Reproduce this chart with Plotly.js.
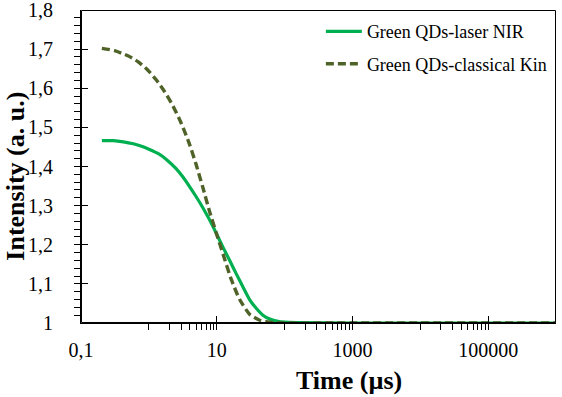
<!DOCTYPE html>
<html>
<head>
<meta charset="utf-8">
<script src="https://cdn.plot.ly/plotly-3.0.1.min.js"></script>
<style>html,body{margin:0;padding:0;background:#fff;}#chart{width:562px;height:397px;}</style>
</head>
<body>
<div id="chart"></div>
<script>
// Series: Green QDs-laser NIR (solid)
const timeNIR = [0.203, 0.30, 0.42, 0.59, 0.80, 1.0, 1.4, 1.81, 2.5, 3.18, 4.0, 5.01, 6.28, 7.88, 10.0, 12.5, 15.6, 19.5, 24.4, 30.5, 38.5, 48, 60.6, 80, 100, 150, 1000, 1000000];
const intensityNIR = [1.466, 1.466, 1.463, 1.458, 1.451, 1.444, 1.432, 1.418, 1.395, 1.373, 1.348, 1.322, 1.294, 1.263, 1.227, 1.192, 1.159, 1.125, 1.092, 1.060, 1.037, 1.020, 1.010, 1.004, 1.002, 1.001, 1.0, 1.0];
// Series: Green QDs-classical Kin (dashed)
const timeKin = [0.203, 0.312, 0.491, 0.689, 0.968, 1.29, 1.71, 2.26, 3.01, 3.99, 5.01, 6.28, 7.88, 9.90, 12.4, 16.5, 21.8, 30.7, 43.1, 60.6, 100, 1000, 1000000];
const intensityKin = [1.702, 1.696, 1.683, 1.668, 1.646, 1.621, 1.591, 1.555, 1.510, 1.456, 1.403, 1.345, 1.284, 1.229, 1.176, 1.110, 1.060, 1.022, 1.007, 1.002, 1.0, 1.0, 1.0];
const seriesNames = ["Green QDs-laser NIR", "Green QDs-classical Kin"];

// Axis ticks
const xTickVals = [0.1, 10, 1000, 100000];
const xTickText = ["0,1", "10", "1000", "100000"];
const xMinorVals = [0.1,1,2,3,4,5,6,7,8,9,10,100,200,300,400,500,600,700,800,900,1000,10000,20000,30000,40000,50000,60000,70000,80000,90000,100000,1000000];
const yTickVals = [1, 1.1, 1.2, 1.3, 1.4, 1.5, 1.6, 1.7, 1.8];
const yTickText = ["1", "1,1", "1,2", "1,3", "1,4", "1,5", "1,6", "1,7", "1,8"];

const serif = "Liberation Serif, Times New Roman, serif";

const traces = [
  {x: timeNIR, y: intensityNIR, name: seriesNames[0], type: "scatter", mode: "lines",
   line: {color: "#00B050", width: 3.2, shape: "spline", smoothing: 0.6}, legendgroup: "a"},
  {x: timeKin, y: intensityKin, name: seriesNames[1], type: "scatter", mode: "lines",
   line: {color: "#4F6228", width: 3.4, dash: "8px,4px", shape: "spline", smoothing: 0.6}, legendgroup: "b"}
];

const layout = {
  width: 562, height: 397,
  margin: {l: 81, r: 6, t: 10, b: 74},
  paper_bgcolor: "#fff", plot_bgcolor: "#fff",
  font: {family: serif, color: "#000"},
  showlegend: true,
  legend: {x: 0.505, xanchor: "left", y: 0.99, yanchor: "top", bgcolor: "rgba(0,0,0,0)",
           font: {family: serif, size: 18, color: "#000"}, tracegroupgap: 6, traceorder: "grouped", itemwidth: 36},
  xaxis: {type: "log", range: [-1, 6], showgrid: false, zeroline: false,
          showline: true, linecolor: "#000", linewidth: 1, mirror: false,
          tickmode: "array", tickvals: xTickVals, ticktext: xTickText,
          ticks: "inside", ticklen: 7, tickcolor: "#000", tickwidth: 1,
          tickfont: {family: serif, size: 20, color: "#000"}, ticklabelstandoff: 9, ticklabeloverflow: "allow",
          minor: {tickmode: "array", tickvals: xMinorVals, ticks: "outside", ticklen: 6, tickcolor: "#000", tickwidth: 1, showgrid: false}},
  yaxis: {range: [1, 1.8], showgrid: false, zeroline: false,
          showline: true, linecolor: "#000", linewidth: 1, mirror: false,
          tickmode: "array", tickvals: yTickVals, ticktext: yTickText,
          ticks: "inside", ticklen: 7, tickcolor: "#000", tickwidth: 1,
          tickfont: {family: serif, size: 20, color: "#000"}, ticklabelstandoff: 23, ticklabeloverflow: "allow",
          minor: {dtick: 0.02, tick0: 1, ticks: "outside", ticklen: 6, tickcolor: "#000", tickwidth: 1, showgrid: false}},
  shapes: [
    {type: "rect", xref: "paper", yref: "paper", x0: 0.00105, x1: 0.99895, y0: 0.0016, y1: 0.9984,
     line: {color: "#000", width: 1}, fillcolor: "rgba(0,0,0,0)", layer: "above"}
  ],
  annotations: [
    {text: "<b>Time (µs)</b>", xref: "paper", yref: "paper", x: 0.564, y: -0.183, xanchor: "center", yanchor: "middle",
     showarrow: false, font: {family: serif, size: 26, color: "#000"}},
    {text: "<b>Intensity (a. u.)</b>", xref: "paper", yref: "paper", x: -0.138, y: 0.469, xanchor: "center", yanchor: "middle",
     textangle: -90, showarrow: false, font: {family: serif, size: 26, color: "#000"}}
  ]
};

Plotly.newPlot("chart", traces, layout, {displayModeBar: false, staticPlot: true});
</script>
</body>
</html>
